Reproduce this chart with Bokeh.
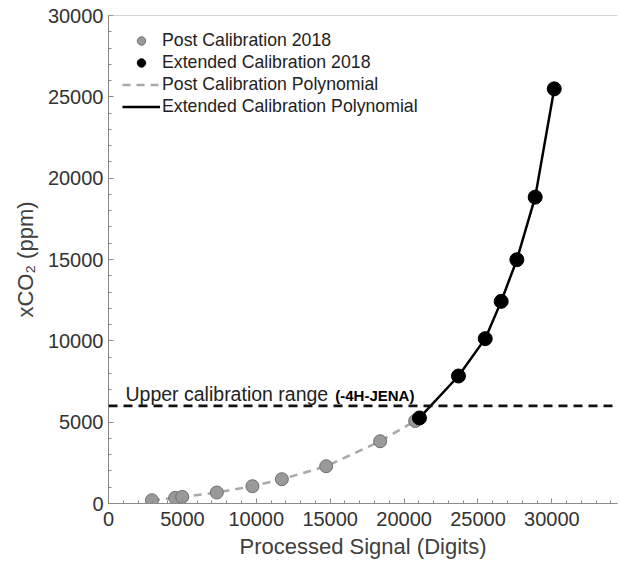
from bokeh.plotting import figure
from bokeh.models import (Range1d, Span, Label, Legend, LegendItem,
                          SingleIntervalTicker, ColumnDataSource)
from bokeh.embed import file_html
from bokeh.resources import INLINE

# ---- data ----
post_x = [2940, 4510, 4990, 7330, 9740, 11730, 14730, 18380, 20750]
post_y = [200, 344, 405, 676, 1063, 1493, 2291, 3827, 5074]
ext_x = [21040, 23680, 25490, 26570, 27630, 28870, 30160]
ext_y = [5258, 7838, 10135, 12426, 14988, 18833, 25491]
upper_range = 6000
y_max = 30000
x_ticks_step = 5000
y_ticks_step = 5000

FONT = "Liberation Sans"
AXIS_COL = "#8a8a8a"
TEXT_COL = "#333333"

p = figure(width=619, height=563, output_backend="svg", toolbar_location=None,
           x_range=Range1d(0, 34440), y_range=Range1d(0, y_max),
           min_border_left=108, min_border_right=2, min_border_top=15,
           min_border_bottom=60, background_fill_color="white",
           border_fill_color="white")
p.outline_line_color = None
p.grid.visible = False

for ax in (p.xaxis[0], p.yaxis[0]):
    ax.axis_line_color = AXIS_COL
    ax.major_tick_line_color = AXIS_COL
    ax.minor_tick_line_color = AXIS_COL
    ax.major_tick_in = 5
    ax.major_tick_out = 0
    ax.minor_tick_in = 3
    ax.minor_tick_out = 0
    ax.major_label_text_font = FONT
    ax.major_label_text_font_size = "20px"
    ax.major_label_text_color = TEXT_COL
    ax.axis_label_text_font = FONT
    ax.axis_label_text_font_size = "22px"
    ax.axis_label_text_font_style = "normal"
    ax.axis_label_text_color = "#404040"

p.xaxis[0].ticker = SingleIntervalTicker(interval=x_ticks_step, num_minor_ticks=5)
p.yaxis[0].ticker = SingleIntervalTicker(interval=y_ticks_step, num_minor_ticks=5)
p.xaxis[0].major_label_standoff = 8
p.yaxis[0].major_label_standoff = 5
p.xaxis[0].axis_label = "Processed Signal (Digits)"
p.yaxis[0].axis_label = "xCO₂ (ppm)"
p.xaxis[0].axis_label_standoff = 5
p.yaxis[0].axis_label_standoff = 7

# top border of the box
p.add_layout(Span(location=y_max, dimension="width", line_color="#aaaaaa",
                  line_width=1.2))

# ---- glyphs ----
post_src = ColumnDataSource(dict(x=post_x, y=post_y))
ext_src = ColumnDataSource(dict(x=ext_x, y=ext_y))

post_line = p.line("x", "y", source=post_src, line_color="#a8a8a8", line_width=2.5,
                   line_dash="8 6")
hline = Span(location=upper_range, dimension="width", line_color="#111111",
             line_width=2.7, line_dash="9 6")
p.add_layout(hline)
post_pts = p.scatter("x", "y", source=post_src, size=13, fill_color="#999999",
                     line_color="#6e6e6e", line_width=1)
ext_line = p.line("x", "y", source=ext_src, line_color="black", line_width=2.5)
ext_pts = p.scatter("x", "y", source=ext_src, size=14, fill_color="black",
                    line_color="black")

p.add_layout(Label(x=1150, y=upper_range, y_offset=12, text="Upper calibration range",
                   text_font=FONT, text_font_size="19.5px", text_color="#222222",
                   text_baseline="alphabetic"))
p.add_layout(Label(x=15340, y=upper_range, y_offset=10, text="(-4H-JENA)",
                   text_font=FONT, text_font_size="15px", text_font_style="bold",
                   text_color="black", text_baseline="alphabetic"))

legend = Legend(items=[
    LegendItem(label="Post Calibration 2018", renderers=[post_pts]),
    LegendItem(label="Extended Calibration 2018", renderers=[ext_pts]),
    LegendItem(label="Post Calibration Polynomial", renderers=[post_line]),
    LegendItem(label="Extended Calibration Polynomial", renderers=[ext_line]),
], location=(14, 386), padding=0, margin=0, spacing=1, glyph_width=38,
    glyph_height=21, label_height=21, label_standoff=2,
    label_text_font=FONT, label_text_font_size="17.7px", label_text_color="#222222",
    border_line_color=None, background_fill_alpha=0)
p.add_layout(legend, "center")

open("out.html", "w").write(file_html(p, INLINE))
